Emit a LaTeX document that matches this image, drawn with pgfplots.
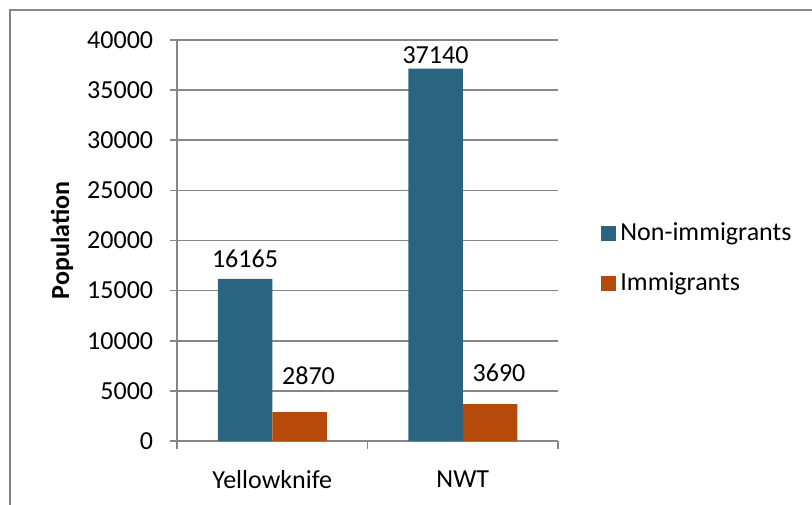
\documentclass[border=0pt]{standalone}
\usepackage{fontspec}
\setmainfont{Carlito}
\usepackage{pgfplots}
\usepackage{pgfplotstable}
\pgfplotsset{compat=1.18}
\definecolor{nonimm}{RGB}{43,100,128}
\definecolor{imm}{RGB}{182,74,11}
\definecolor{gridgray}{RGB}{134,134,134}
% x, value, label offsets (pt)
\pgfplotstableread{
x y dx dy
0 16165 0 5.5
1 37140 0 2.5
}\nonimmdata
\pgfplotstableread{
x y dx dy
0 2870 4.5 13.5
1 3690 4.5 11
}\immdata
\begin{document}
\fontsize{13}{15.6}\selectfont
\begin{tikzpicture}
\begin{axis}[
  at={(0,0)}, anchor=south west,
  scale only axis,
  width=190.5pt, height=200.5pt,
  font=\fontsize{13}{15.6}\selectfont,
  scaled y ticks=false,
  /pgf/number format/assume math mode=true,
  /pgf/number format/1000 sep={},
  ybar=0pt, bar width=27.25pt,
  xmin=-0.5, xmax=1.5,
  ymin=0, ymax=40000,
  ytick={0,5000,...,40000},
  xtick={0,1},
  xticklabels={Yellowknife,NWT},
  minor xtick={-0.5,0.5,1.5},
  axis x line=bottom, axis y line=left,
  axis line style={-, draw=gridgray, line width=0.8pt},
  tick align=outside,
  major tick length=3.75pt, minor tick length=3.75pt,
  xtick style={draw=none},
  minor x tick style={draw=gridgray, line width=0.8pt},
  ytick style={draw=gridgray, line width=0.8pt},
  ymajorgrids, grid style={draw=gridgray, line width=0.8pt},
  yticklabel style={anchor=east, inner sep=0pt, xshift=-8pt},
  xticklabel style={anchor=north, inner sep=0pt, yshift=-11pt},
  ylabel={\bfseries Population},
  ylabel style={at={(axis description cs:-0.302,0.5)}, anchor=center},
  nodes near coords,
  visualization depends on={\thisrow{dx} \as \labdx},
  visualization depends on={\thisrow{dy} \as \labdy},
  nodes near coords style={anchor=south, inner sep=0pt, text=black,
    xshift=\labdx pt, yshift=\labdy pt,
    /pgf/number format/fixed, /pgf/number format/precision=0},
  legend style={draw=none, fill=none, at={(1.1129,0.455)}, anchor=west,
    inner sep=0pt, row sep=10pt, font=\fontsize{13}{15.6}\selectfont},
  legend cell align=left,
  legend image code/.code={\fill[#1] (0pt,-3.75pt) rectangle (7.5pt,3.75pt);},
]
\addplot[fill=nonimm, draw=none] table[x=x, y=y] {\nonimmdata};
\addplot[fill=imm, draw=none] table[x=x, y=y] {\immdata};
\legend{Non-immigrants, Immigrants}
\end{axis}
\draw[gridgray, line width=0.8pt] (-83.5pt,-60pt) -- (-83.5pt,215.5pt) -- (340pt,215.5pt);
\pgfresetboundingbox
\path[use as bounding box] (-88.5pt,-31.5pt) rectangle (317.5pt,220.5pt);
\end{tikzpicture}
\end{document}
